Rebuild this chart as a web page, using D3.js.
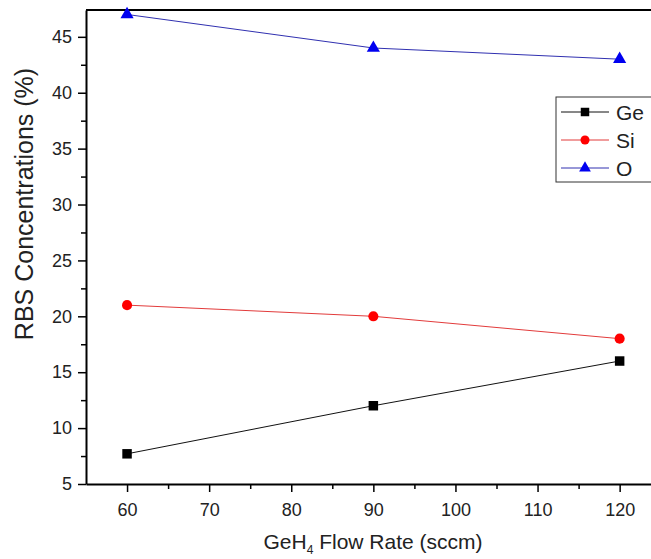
<!DOCTYPE html>
<html>
<head>
<meta charset="utf-8">
<script src="https://cdn.jsdelivr.net/npm/d3@7"></script>
<style>
  body { margin: 0; background: #fff; }
  svg { display: block; font-family: Arial, "Liberation Sans", sans-serif; }
  .axis path, .axis line { stroke: #000; }
  .axis text { font-size: 18px; fill: #222; }
</style>
</head>
<body>
<svg id="chart" width="651" height="559"></svg>
<script>
const flowRates = [60, 90, 120];
const geValues = [7.7, 12, 16];
const siValues = [21, 20, 18];
const oValues = [47, 44, 43];
const xTicks = [60, 70, 80, 90, 100, 110, 120];
const yTicks = [5, 10, 15, 20, 25, 30, 35, 40, 45];

const series = [
  {name: "Ge", values: geValues, line: "#111", fill: "#000", shape: d3.symbolSquare, size: 90},
  {name: "Si", values: siValues, line: "#e23b3b", fill: "#f00", shape: d3.symbolCircle, size: 80},
  {name: "O", values: oValues, line: "#3030b0", fill: "#0000f0", shape: d3.symbolTriangle, size: 75}
];

const margin = {top: 10, left: 86, bottom: 484};
const svg = d3.select("#chart");

const x = d3.scaleLinear().domain([55, 125]).range([margin.left, margin.left + 70 * 8.21]);
const y = d3.scaleLinear().domain([5, 47.4]).range([margin.bottom, margin.top]);

// minor ticks
svg.append("g")
    .attr("class", "axis")
    .attr("transform", "translate(0," + margin.bottom + ")")
    .call(d3.axisBottom(x).tickValues(d3.range(65, 120, 10)).tickSize(5).tickFormat(""))
    .call(g => g.select(".domain").remove())
    .selectAll("line").attr("stroke-width", 1.5);
svg.append("g")
    .attr("class", "axis")
    .attr("transform", "translate(" + margin.left + ",0)")
    .call(d3.axisLeft(y).tickValues(d3.range(7.5, 45, 5)).tickSize(5).tickFormat(""))
    .call(g => g.select(".domain").remove())
    .selectAll("line").attr("stroke-width", 1.5);

// major axes
const xAxis = svg.append("g")
    .attr("class", "axis")
    .attr("transform", "translate(0," + margin.bottom + ")")
    .call(d3.axisBottom(x).tickValues(xTicks).tickSizeInner(8).tickSizeOuter(0).tickPadding(11));
xAxis.select(".domain").attr("stroke-width", 2);
xAxis.selectAll(".tick line").attr("stroke-width", 1.5);

const yAxis = svg.append("g")
    .attr("class", "axis")
    .attr("transform", "translate(" + margin.left + ",0)")
    .call(d3.axisLeft(y).tickValues(yTicks).tickSizeInner(8).tickSizeOuter(0).tickPadding(6));
yAxis.select(".domain").attr("stroke-width", 2);
yAxis.selectAll(".tick line").attr("stroke-width", 1.5);

// top frame
svg.append("line")
    .attr("x1", margin.left).attr("x2", 651)
    .attr("y1", y(47.4)).attr("y2", y(47.4))
    .attr("stroke", "#000").attr("stroke-width", 2);

// series
const line = d3.line().x((d, i) => x(flowRates[i])).y(d => y(d));
series.forEach(s => {
  svg.append("path")
      .datum(s.values)
      .attr("fill", "none")
      .attr("stroke", s.line)
      .attr("stroke-width", 1)
      .attr("d", line);
  svg.selectAll(null)
      .data(s.values)
      .enter().append("path")
      .attr("transform", (d, i) => "translate(" + x(flowRates[i]) + "," + y(d) + ")")
      .attr("d", d3.symbol().type(s.shape).size(s.size))
      .attr("fill", s.fill);
});

// legend
const legend = svg.append("g").attr("transform", "translate(556,97)");
legend.append("rect")
    .attr("width", 110).attr("height", 85)
    .attr("fill", "#fff").attr("stroke", "#333").attr("stroke-width", 1);
series.forEach((s, i) => {
  const row = legend.append("g").attr("transform", "translate(0," + (15 + i * 28) + ")");
  row.append("line").attr("x1", 5).attr("x2", 53).attr("stroke", s.line).attr("stroke-width", 1);
  row.append("path")
      .attr("transform", "translate(29,0)")
      .attr("d", d3.symbol().type(s.shape).size(s.size * 0.8))
      .attr("fill", s.fill);
  row.append("text")
      .attr("x", 60).attr("dy", "0.36em")
      .attr("font-size", 21).attr("fill", "#222")
      .text(s.name);
});

// axis titles
const xTitle = svg.append("text")
    .attr("x", 373).attr("y", 549)
    .attr("text-anchor", "middle")
    .attr("font-size", 21).attr("fill", "#222");
xTitle.append("tspan").text("GeH");
xTitle.append("tspan").attr("font-size", 12).attr("dy", 5).text("4");
xTitle.append("tspan").attr("dy", -5).text(" Flow Rate (sccm)");

svg.append("text")
    .attr("transform", "translate(33,204) rotate(-90)")
    .attr("text-anchor", "middle")
    .attr("font-size", 25).attr("fill", "#222")
    .text("RBS Concentrations (%)");
</script>
</body>
</html>
